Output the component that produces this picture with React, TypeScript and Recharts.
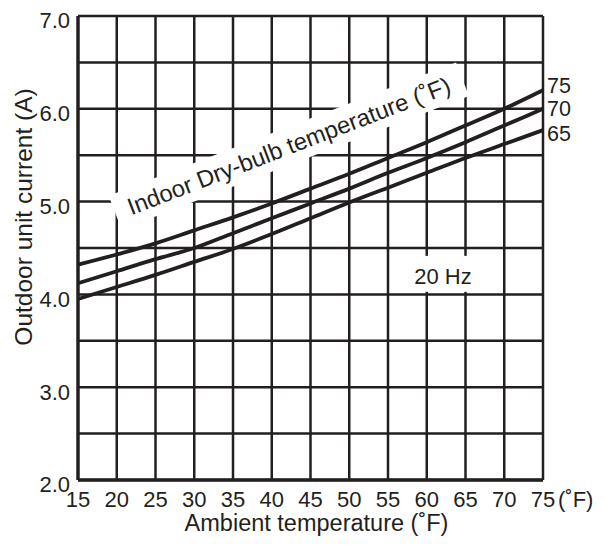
import React from 'react';
import {
  LineChart,
  Line,
  XAxis,
  YAxis,
  CartesianGrid,
  ReferenceDot,
} from 'recharts';

const ambientTemps = [15, 20, 25, 30, 35, 40, 45, 50, 55, 60, 65, 70, 75];
const current75 = [4.32, 4.43, 4.55, 4.69, 4.83, 4.98, 5.14, 5.3, 5.47, 5.64, 5.82, 6.0, 6.2];
const current70 = [4.12, 4.25, 4.38, 4.5, 4.66, 4.82, 4.98, 5.14, 5.31, 5.47, 5.64, 5.82, 6.0];
const current65 = [3.95, 4.08, 4.21, 4.35, 4.49, 4.65, 4.82, 4.99, 5.15, 5.31, 5.47, 5.62, 5.77];
const yTicks = [2, 2.5, 3, 3.5, 4, 4.5, 5, 5.5, 6, 6.5, 7];

const data = ambientTemps.map((t, i) => ({
  t,
  c75: current75[i],
  c70: current70[i],
  c65: current65[i],
}));

const INK = '#231f20';
const FONT = '"Liberation Sans", Arial, Helvetica, sans-serif';
const lastIndex = ambientTemps.length - 1;

const XTick = (props: any) => {
  const { x, y, payload } = props;
  if (x === undefined || y === undefined || !payload) return null;
  const isLast = payload.value === ambientTemps[lastIndex];
  return (
    <g>
      <text x={x} y={y} dy="0.71em" textAnchor="middle" fill={INK} fontSize={22} fontFamily={FONT}>
        {payload.value}
      </text>
      {isLast && (
        <text x={x + 15} y={y} dy="0.71em" textAnchor="start" fill={INK} fontSize={22} fontFamily={FONT}>
          (˚F)
        </text>
      )}
    </g>
  );
};

const YTick = (props: any) => {
  const { x, y, payload } = props;
  if (x === undefined || y === undefined || !payload) return null;
  if (payload.value % 1 !== 0) return null;
  return (
    <text x={x} y={y + 4.5} dy="0.355em" textAnchor="end" fill={INK} fontSize={22} fontFamily={FONT}>
      {payload.value.toFixed(1)}
    </text>
  );
};

const YTitle = (props: any) => {
  const vb = props.viewBox || {};
  const cx = 23;
  const cy = vb.y + vb.height / 2 - 31;
  return (
    <text
      x={cx}
      y={cy}
      dy="0.35em"
      textAnchor="middle"
      transform={`rotate(-90, ${cx}, ${cy})`}
      fill={INK}
      fontSize={24.5}
      fontFamily={FONT}
    >
      Outdoor unit current (A)
    </text>
  );
};

const XTitle = (props: any) => {
  const vb = props.viewBox || {};
  const cx = vb.x + vb.width / 2 + 6;
  const cy = vb.y + 43;
  return (
    <text x={cx} y={cy} dy="0.35em" textAnchor="middle" fill={INK} fontSize={23.5} fontFamily={FONT}>
      Ambient temperature (˚F)
    </text>
  );
};

const makeEndLabel = (name: string, series: number[], shift: number) => (props: any) => {
  const x = props.x ?? props.viewBox?.x;
  const y = props.y ?? props.viewBox?.y;
  const isLast =
    props.index !== undefined ? props.index === series.length - 1 : props.value === series[series.length - 1];
  if (!isLast || x === undefined || y === undefined) return null;
  return (
    <text key={name} x={x + 4} y={y + shift} dy="0.35em" textAnchor="start" fill={INK} fontSize={21.5} fontFamily={FONT}>
      {name}
    </text>
  );
};

const CurveNote = (props: any) => {
  const { cx, cy } = props;
  if (cx === undefined || cy === undefined) return null;
  return (
    <g transform={`translate(${cx}, ${cy}) rotate(-21)`}>
      <rect x={-186} y={-18} width={372} height={36} fill="#ffffff" />
      <text x={0} y={0} dy="0.35em" textAnchor="middle" fill={INK} fontSize={23.8} fontFamily={FONT}>
        Indoor Dry-bulb temperature (˚F)
      </text>
    </g>
  );
};

const FreqNote = (props: any) => {
  const { cx, cy } = props;
  if (cx === undefined || cy === undefined) return null;
  return (
    <g>
      <rect x={cx - 35} y={cy - 20} width={70} height={36} fill="#ffffff" />
      <text x={cx} y={cy} dy="0.35em" textAnchor="middle" fill={INK} fontSize={22} fontFamily={FONT}>
        20 Hz
      </text>
    </g>
  );
};

export default function App() {
  return (
    <div style={{ position: 'absolute', left: 0, top: 0, background: '#fff' }}>
      <LineChart width={606} height={545} data={data} margin={{ top: 16, right: 63, bottom: 0, left: 0 }}>
        <CartesianGrid stroke={INK} strokeWidth={2.5} />
        <XAxis
          dataKey="t"
          type="number"
          domain={[15, 75]}
          ticks={ambientTemps}
          interval={0}
          height={65}
          tickSize={0}
          tickMargin={11}
          tick={<XTick />}
          axisLine={{ stroke: INK, strokeWidth: 3.3 }}
          label={<XTitle />}
        />
        <YAxis
          type="number"
          domain={[2, 7]}
          ticks={yTicks}
          interval={0}
          width={78}
          tickSize={0}
          tickMargin={8}
          tick={<YTick />}
          axisLine={{ stroke: INK, strokeWidth: 3.3 }}
          label={<YTitle />}
        />
        <ReferenceDot x={42.2} y={5.6} r={0} shape={<CurveNote />} />
        <ReferenceDot x={62.1} y={4.2} r={0} shape={<FreqNote />} />
        <Line
          type="monotone"
          dataKey="c75"
          stroke={INK}
          strokeWidth={3.8}
          dot={false}
          isAnimationActive={false}
          label={makeEndLabel('75', current75, -5)}
        />
        <Line
          type="monotone"
          dataKey="c70"
          stroke={INK}
          strokeWidth={3.8}
          dot={false}
          isAnimationActive={false}
          label={makeEndLabel('70', current70, 0)}
        />
        <Line
          type="monotone"
          dataKey="c65"
          stroke={INK}
          strokeWidth={3.8}
          dot={false}
          isAnimationActive={false}
          label={makeEndLabel('65', current65, 3)}
        />
      </LineChart>
    </div>
  );
}
